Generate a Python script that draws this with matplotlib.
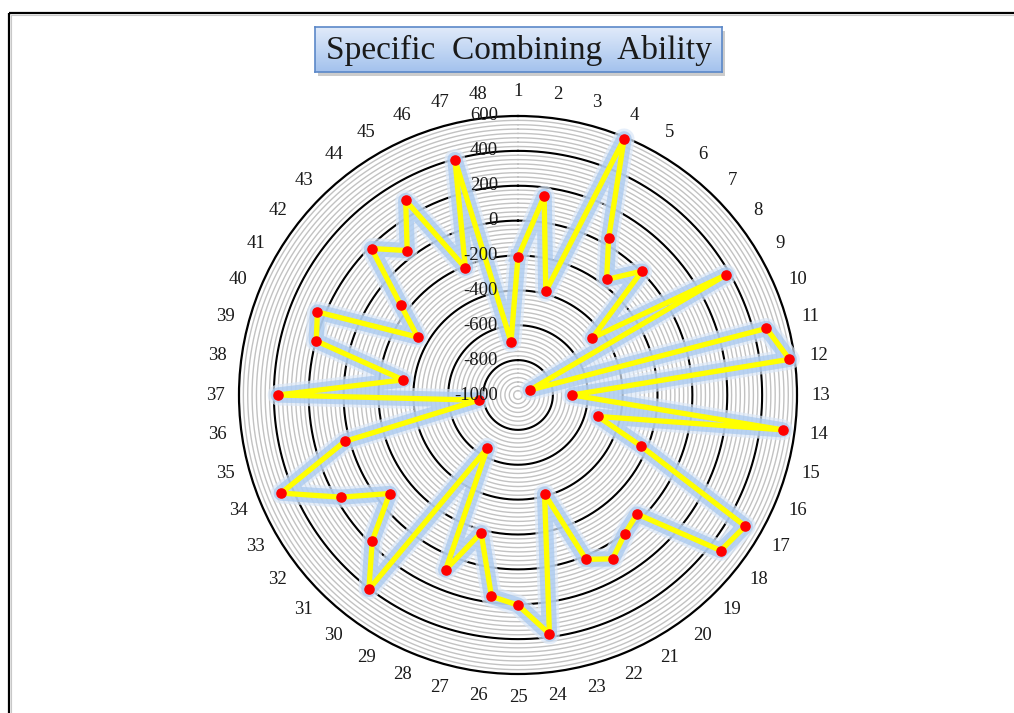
import numpy as np
import matplotlib
matplotlib.use("Agg")
import matplotlib.pyplot as plt
import matplotlib.patheffects as pe
from matplotlib.transforms import offset_copy
from matplotlib.lines import Line2D
from matplotlib.patches import Rectangle

# ---------------- data ----------------
categories = [str(i) for i in range(1, 49)]
values = [-210, 150, -385, 590, 40, -165, 5, -462, 378, -925,
          475, 570, -690, 530, -525, -238, 505, 465, -35, 5,
          85, 20, -412, 382, 205, 165, -182, 85, -648, 405,
          182, -72, 172, 470, 28, -772, 376, -335, 198, 245,
          -336, -152, 188, 44, 288, -212, 398, -692]
r_tick_values = [600, 400, 200, 0, -200, -400, -600, -800, -1000]
r_min, r_max = -1000, 600
minor_step = 25
major_step = 200
title = "Specific Combining Ability"

# ---------------- figure ----------------
W, H = 1014, 713
fig = plt.figure(figsize=(W / 100, H / 100), dpi=100)
fig.patch.set_facecolor("white")
serif = ["Liberation Serif", "DejaVu Serif"]

# frame lines (top and left)
fig.add_artist(Line2D([8.5 / W, 1.0], [1 - 12.7 / H, 1 - 12.7 / H], transform=fig.transFigure,
                      color="black", lw=1.6, solid_capstyle="butt"))
fig.add_artist(Line2D([8.5 / W, 8.5 / W], [0, 1 - 12.7 / H], transform=fig.transFigure,
                      color="black", lw=1.6, solid_capstyle="butt"))
fig.add_artist(Line2D([10.5 / W, 1.0], [1 - 14.5 / H, 1 - 14.5 / H], transform=fig.transFigure,
                      color="#c8c8c8", lw=0.8))
fig.add_artist(Line2D([10.5 / W, 10.5 / W], [0, 1 - 14.5 / H], transform=fig.transFigure,
                      color="#c8c8c8", lw=0.8))

# polar axes
cx, cy, R = 518, 395, 279
ax = fig.add_axes([(cx - R) / W, (H - cy - R) / H, 2 * R / W, 2 * R / H], projection="polar")
ax.set_theta_zero_location("N")
ax.set_theta_direction(-1)
ax.set_ylim(r_min, r_max)
ax.set_xticks([])
ax.set_yticks([])
ax.grid(False)
ax.spines["polar"].set_color("black")
ax.spines["polar"].set_linewidth(1.6)
ax.patch.set_facecolor("white")

th = np.linspace(0, 2 * np.pi, 721)
for r in range(r_min + minor_step, r_max, minor_step):
    if (r - r_min) % major_step == 0:
        ax.plot(th, np.full_like(th, r), color="black", lw=1.5, zorder=2)
    else:
        ax.plot(th, np.full_like(th, r), color="#c2c2c2", lw=1.0, zorder=1)

# radial axis labels
trans = offset_copy(ax.transData, fig=fig, x=-20, y=0, units="dots")
for v in r_tick_values:
    ax.text(0, v, str(v), transform=trans, ha="right", va="center",
            fontsize=13.5, family=serif, color="#1a1a1a", zorder=8, clip_on=False)

# category labels
n = len(categories)
angles = np.arange(n) * 2 * np.pi / n
label_r = r_min + 303 / R * (r_max - r_min)
for a, c in zip(angles, categories):
    ax.text(a, label_r, c, ha="center", va="center", fontsize=13.5,
            family=serif, color="#1a1a1a", clip_on=False)

# series
ang_c = np.append(angles, angles[0])
val_c = np.append(values, values[0])
glow = [pe.Stroke(linewidth=15, foreground="#dbe8f8", alpha=0.7),
        pe.Stroke(linewidth=11, foreground="#a9c9ef", alpha=0.75),
        pe.Normal()]
ax.plot(ang_c, val_c, color="#ffff00", lw=3.8, zorder=5, clip_on=False,
        solid_joinstyle="round", path_effects=glow)
ax.plot(angles, values, linestyle="none", marker="o", markersize=6.6,
        markerfacecolor="#ff0000", markeredgecolor="#ff0000", zorder=6, clip_on=False)

# title box
bx0, by0, bx1, by1 = 315, 27, 722, 72
shadow = Rectangle(((bx0 + 3) / W, 1 - (by1 + 4) / H), (bx1 - bx0) / W, (by1 - by0) / H,
                   transform=fig.transFigure, facecolor="#9a9a9a", edgecolor="none",
                   alpha=0.5, zorder=0)
fig.add_artist(shadow)
tax = fig.add_axes([bx0 / W, 1 - by1 / H, (bx1 - bx0) / W, (by1 - by0) / H])
grad = np.linspace(0, 1, 64).reshape(-1, 1)
c_top = np.array([0.88, 0.92, 0.98])
c_bot = np.array([0.64, 0.76, 0.93])
img = c_top[None, None, :] * (1 - grad[:, :, None]) + c_bot[None, None, :] * grad[:, :, None]
tax.imshow(img, aspect="auto", extent=[0, 1, 0, 1], origin="upper")
tax.set_xlim(0, 1)
tax.set_ylim(0, 1)
tax.set_xticks([])
tax.set_yticks([])
for s in tax.spines.values():
    s.set_color("#5b88c8")
    s.set_linewidth(1.2)
tax.text(0.5, 0.47, "Specific  Combining  Ability", ha="center", va="center", fontsize=24,
         family=serif, color="#1a1a1a")

fig.savefig("out.png", dpi=100)
